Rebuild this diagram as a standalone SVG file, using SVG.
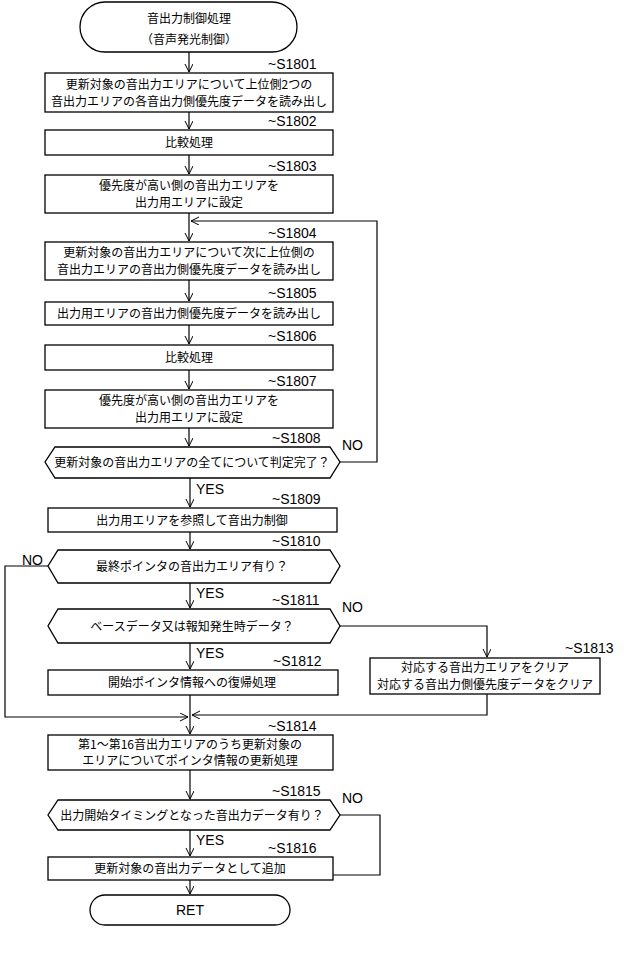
<svg xmlns="http://www.w3.org/2000/svg" width="640" height="960" viewBox="0 0 640 960">
<defs>
<style>
.b{fill:#fff;stroke:#000;stroke-width:1.3}
.t{font-family:"Noto Sans CJK JP",sans-serif;font-size:12px;text-anchor:middle}
.s{font-family:"Liberation Sans",sans-serif;font-size:14px}
.c{fill:none;stroke:#000;stroke-width:1.2}
</style>
<marker id="a" markerWidth="10" markerHeight="10" refX="8" refY="4" orient="auto" markerUnits="userSpaceOnUse"><path d="M0,0 L8,4 L0,8" fill="none" stroke="#000"/></marker>
</defs>
<rect width="640" height="960" fill="#fff"/>
<g id="connectors">
<path class="c" d="M189,52 V72" marker-end="url(#a)"/>
<path class="c" d="M189,112 V129" marker-end="url(#a)"/>
<path class="c" d="M189,155 V174" marker-end="url(#a)"/>
<path class="c" d="M189,213 V241" marker-end="url(#a)"/>
<path class="c" d="M189,280 V301" marker-end="url(#a)"/>
<path class="c" d="M189,325 V344" marker-end="url(#a)"/>
<path class="c" d="M189,370 V389" marker-end="url(#a)"/>
<path class="c" d="M189,428 V446" marker-end="url(#a)"/>
<path class="c" d="M340,462 H377 V221 H191" marker-end="url(#a)"/>
<path class="c" d="M190,478 V507" marker-end="url(#a)"/>
<path class="c" d="M190,532 V549" marker-end="url(#a)"/>
<path class="c" d="M190,583 V608" marker-end="url(#a)"/>
<path class="c" d="M190,643 V669" marker-end="url(#a)"/>
<path class="c" d="M340,626 H487 V657" marker-end="url(#a)"/>
<path class="c" d="M48,566 H5 V717 H188" marker-end="url(#a)"/>
<path class="c" d="M487,694 V715 H192" marker-end="url(#a)"/>
<path class="c" d="M190,695 V734" marker-end="url(#a)"/>
<path class="c" d="M190,770 V799" marker-end="url(#a)"/>
<path class="c" d="M190,830 V856" marker-end="url(#a)"/>
<path class="c" d="M340,815 H380 V875 H192" marker-end="url(#a)"/>
<path class="c" d="M190,880 V894" marker-end="url(#a)"/>
</g>
<g id="start"><rect class="b" x="80" y="2" width="217" height="50" rx="25"/><text class="t" x="189" y="23" font-size="13">音出力制御処理</text><text class="t" x="189" y="44" font-size="13">（音声発光制御）</text></g>
<g id="S1801"><rect class="b" x="45" y="73" width="288" height="39"/><text class="t" x="189" y="89">更新対象の音出力エリアについて上位側2つの</text><text class="t" x="189" y="106" textLength="276" lengthAdjust="spacingAndGlyphs">音出力エリアの各音出力側優先度データを読み出し</text><text class="s" x="268" y="69">~S1801</text></g>
<g id="S1802"><rect class="b" x="45" y="130" width="288" height="25"/><text class="t" x="189" y="147">比較処理</text><text class="s" x="268" y="126">~S1802</text></g>
<g id="S1803"><rect class="b" x="45" y="175" width="288" height="38"/><text class="t" x="189" y="190">優先度が高い側の音出力エリアを</text><text class="t" x="189" y="207">出力用エリアに設定</text><text class="s" x="268" y="171">~S1803</text></g>
<g id="S1804"><rect class="b" x="45" y="242" width="288" height="38"/><text class="t" x="189" y="257">更新対象の音出力エリアについて次に上位側の</text><text class="t" x="189" y="274">音出力エリアの音出力側優先度データを読み出し</text><text class="s" x="268" y="238">~S1804</text></g>
<g id="S1805"><rect class="b" x="45" y="302" width="288" height="23"/><text class="t" x="189" y="318">出力用エリアの音出力側優先度データを読み出し</text><text class="s" x="268" y="298">~S1805</text></g>
<g id="S1806"><rect class="b" x="45" y="345" width="288" height="25"/><text class="t" x="189" y="362">比較処理</text><text class="s" x="268" y="341">~S1806</text></g>
<g id="S1807"><rect class="b" x="45" y="390" width="288" height="38"/><text class="t" x="189" y="405">優先度が高い側の音出力エリアを</text><text class="t" x="189" y="422">出力用エリアに設定</text><text class="s" x="268" y="386">~S1807</text></g>
<g id="S1808"><polygon class="b" points="55,447 330,447 340,462 330,478 55,478 45,462"/><text class="t" x="192" y="467">更新対象の音出力エリアの全てについて判定完了？</text><text class="s" x="272" y="443">~S1808</text><text class="s" x="342" y="450">NO</text><text class="s" x="196" y="494">YES</text></g>
<g id="S1809"><rect class="b" x="48" y="508" width="289" height="24"/><text class="t" x="192" y="525">出力用エリアを参照して音出力制御</text><text class="s" x="272" y="504">~S1809</text></g>
<g id="S1810"><polygon class="b" points="58,550 330,550 340,566 330,583 58,583 48,566"/><text class="t" x="192" y="571">最終ポインタの音出力エリア有り？</text><text class="s" x="272" y="546">~S1810</text><text class="s" x="22" y="565">NO</text><text class="s" x="196" y="598">YES</text></g>
<g id="S1811"><polygon class="b" points="58,609 330,609 340,626 330,643 58,643 48,626"/><text class="t" x="192" y="631">ベースデータ又は報知発生時データ？</text><text class="s" x="272" y="605">~S1811</text><text class="s" x="342" y="612">NO</text><text class="s" x="196" y="658">YES</text></g>
<g id="S1812"><rect class="b" x="48" y="670" width="290" height="25"/><text class="t" x="192" y="687">開始ポインタ情報への復帰処理</text><text class="s" x="273" y="666">~S1812</text></g>
<g id="S1813"><rect class="b" x="370" y="658" width="230" height="36"/><text class="t" x="485" y="672">対応する音出力エリアをクリア</text><text class="t" x="485" y="689">対応する音出力側優先度データをクリア</text><text class="s" x="565" y="653">~S1813</text></g>
<g id="S1814"><rect class="b" x="48" y="735" width="285" height="35"/><text class="t" x="190" y="749">第1～第16音出力エリアのうち更新対象の</text><text class="t" x="190" y="765">エリアについてポインタ情報の更新処理</text><text class="s" x="268" y="731">~S1814</text></g>
<g id="S1815"><polygon class="b" points="58,800 330,800 340,815 330,830 58,830 48,815"/><text class="t" x="192" y="820">出力開始タイミングとなった音出力データ有り？</text><text class="s" x="272" y="796">~S1815</text><text class="s" x="342" y="803">NO</text><text class="s" x="196" y="845">YES</text></g>
<g id="S1816"><rect class="b" x="48" y="857" width="285" height="23"/><text class="t" x="190" y="873">更新対象の音出力データとして追加</text><text class="s" x="268" y="853">~S1816</text></g>
<g id="end"><rect class="b" x="90" y="895" width="200" height="30" rx="15"/><text class="s" x="190" y="915" text-anchor="middle">RET</text></g>
</svg>
